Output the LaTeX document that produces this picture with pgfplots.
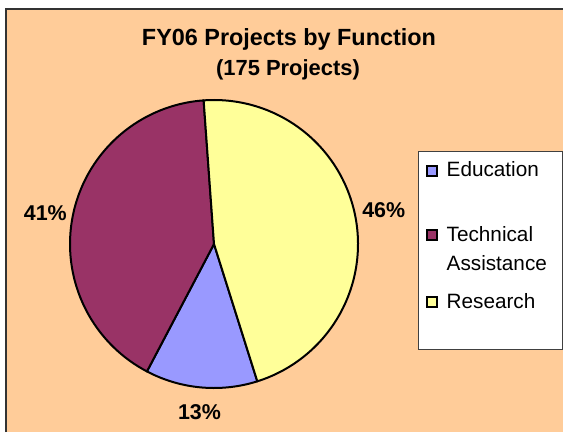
\documentclass[border=0pt]{standalone}
\usepackage{pgfplots}
\usepackage{pgfplotstable}
\pgfplotsset{compat=1.18}
\usepackage{fontspec}
\setmainfont{Liberation Sans}
\definecolor{peach}{HTML}{FFCC99}
\definecolor{edu}{HTML}{9999FF}
\definecolor{tech}{HTML}{993366}
\definecolor{res}{HTML}{FFFF99}
\pgfplotstableread{
name count
Education 22
Technical 72
Research 81
}\piedata
\begin{document}
\pgfplotstablegetelem{0}{count}\of\piedata \edef\cA{\pgfplotsretval}%
\pgfplotstablegetelem{1}{count}\of\piedata \edef\cB{\pgfplotsretval}%
\pgfplotstablegetelem{2}{count}\of\piedata \edef\cC{\pgfplotsretval}%
\pgfmathsetmacro\tot{\cA+\cB+\cC}%
\pgfmathsetmacro\aA{287.5}%
\pgfmathsetmacro\aB{\aA-(360/\tot)*\cA}%
\pgfmathsetmacro\aC{\aB-(360/\tot)*\cB}%
\pgfmathsetmacro\aD{\aC-(360/\tot)*\cC}%
\pgfmathtruncatemacro\pA{round((100/\tot)*\cA)}%
\pgfmathtruncatemacro\pB{round((100/\tot)*\cB)}%
\pgfmathtruncatemacro\pC{round((100/\tot)*\cC)}%
\begin{tikzpicture}[x=1bp,y=1bp]
\useasboundingbox (0,0) rectangle (563,432);
\fill[white] (0,0) rectangle (563,432);
\fill[peach] (5,0) rectangle (563,424);
\draw[line width=2bp, black!80] (6,0) -- (6,423) -- (563,423);
\begin{axis}[at={(0,0)}, anchor=south west, width=563bp, height=432bp,
  scale only axis, xmin=0, xmax=563, ymin=0, ymax=432, hide axis, clip=false]
\addplot[fill=edu, draw=black, line width=2bp, line join=round, domain=\aB:\aA, samples=60, variable=\t]
  ({214+144*cos(t)},{188+144*sin(t)}) -- (axis cs:214,188) -- cycle;
\addplot[fill=tech, draw=black, line width=2bp, line join=round, domain=\aC:\aB, samples=120, variable=\t]
  ({214+144*cos(t)},{188+144*sin(t)}) -- (axis cs:214,188) -- cycle;
\addplot[fill=res, draw=black, line width=2bp, line join=round, domain=\aD:\aC, samples=120, variable=\t]
  ({214+144*cos(t)},{188+144*sin(t)}) -- (axis cs:214,188) -- cycle;
\end{axis}
% title
\node[anchor=base, font=\fontsize{23.5}{27}\selectfont\bfseries] at (289,386.3) {FY06 Projects by Function};
\node[anchor=base, font=\fontsize{22}{26}\selectfont\bfseries] at (288,357) {(175 Projects)};
% percentage labels
\node[anchor=base, font=\fontsize{21.5}{25}\selectfont\bfseries] at (199.5,13) {\pA\%};
\node[anchor=base, font=\fontsize{21.5}{25}\selectfont\bfseries] at (45.3,212) {\pB\%};
\node[anchor=base, font=\fontsize{21.5}{25}\selectfont\bfseries] at (383.7,214.7) {\pC\%};
% legend
\draw[fill=white, draw=black!75, line width=1bp] (418,83) rectangle (562,281);
\draw[fill=edu, draw=black, line width=2bp] (426.5,256) rectangle (436.5,266);
\draw[fill=tech, draw=black, line width=2bp] (426.5,192) rectangle (436.5,202);
\draw[fill=res, draw=black, line width=2bp] (426.5,125) rectangle (436.5,135);
\node[anchor=base west, inner sep=0pt, font=\fontsize{20.8}{24}\selectfont] at (446.5,256) {Education};
\node[anchor=base west, inner sep=0pt, font=\fontsize{20.8}{24}\selectfont] at (446.5,190.5) {Technical};
\node[anchor=base west, inner sep=0pt, font=\fontsize{20.8}{24}\selectfont] at (446.5,162) {Assistance};
\node[anchor=base west, inner sep=0pt, font=\fontsize{20.8}{24}\selectfont] at (446.5,124) {Research};
\end{tikzpicture}
\end{document}
